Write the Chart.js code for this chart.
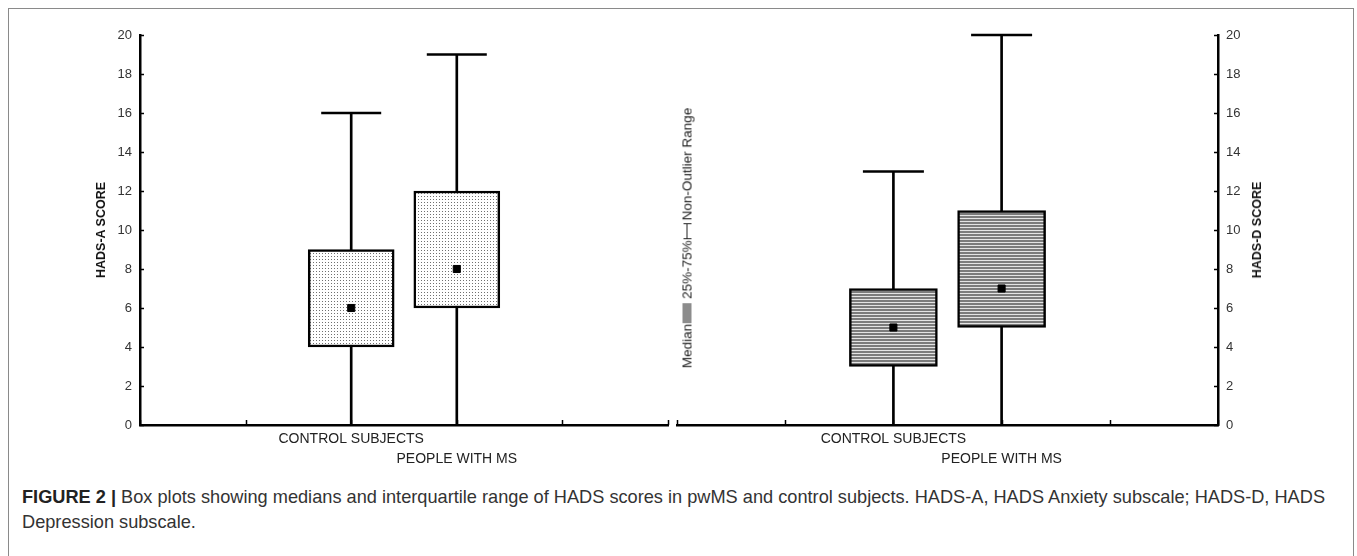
<!DOCTYPE html>
<html><head><meta charset="utf-8">
<script src="https://cdn.jsdelivr.net/npm/chart.js@4.4.1/dist/chart.umd.min.js"></script>
<style>
html,body{margin:0;padding:0;background:#fff;width:1357px;height:556px;overflow:hidden;font-family:"Liberation Sans",Arial,sans-serif;}
#frame{position:absolute;left:8px;top:8px;width:1346px;height:620px;border:1px solid #8a8a8a;box-sizing:border-box;}
.panel{position:absolute;top:0;height:470px;}
#leftWrap{left:0;width:672px;}
#rightWrap{left:672px;width:685px;}
.ytitle{position:absolute;font-weight:bold;font-size:12.5px;color:#111;white-space:nowrap;transform:translate(-50%,-50%) rotate(-90deg);}
#legend{position:absolute;left:687px;top:238px;transform:translate(-50%,-50%) rotate(-90deg);white-space:nowrap;font-size:13.5px;color:#222;display:flex;align-items:center;}
#legend .gbox{display:inline-block;width:20px;height:9px;background:#8c8c8c;margin:0 4px 0 1px;}
#legend .wh{display:inline-block;position:relative;width:14px;height:8px;margin:0 3px 0 1px;border-left:1px solid #222;border-right:1px solid #222;}
#legend .wh:after{content:"";position:absolute;left:0;right:0;top:3.5px;height:1px;background:#222;}
#caption{position:absolute;left:22px;top:485px;width:1330px;font-size:18.2px;line-height:25px;color:#333;white-space:nowrap;}
#caption b{color:#222;}
</style>
</head><body>
<div id="frame"></div>
<div class="panel" id="leftWrap"><canvas id="leftChart" width="672" height="470"></canvas></div>
<div class="panel" id="rightWrap"><canvas id="rightChart" width="685" height="470"></canvas></div>
<div class="ytitle" style="left:101px;top:230px;">HADS-A SCORE</div>
<div class="ytitle" style="left:1257px;top:230px;">HADS-D SCORE</div>
<div id="legend"><span>Median</span><span class="gbox"></span><span>25%-75%</span><span class="wh"></span><span>Non-Outlier Range</span></div>
<div id="caption"><b>FIGURE 2 |</b> Box plots showing medians and interquartile range of HADS scores in pwMS and control subjects. HADS-A, HADS Anxiety subscale; HADS-D, HADS<br>Depression subscale.</div>
<script>
const categories = ['CONTROL SUBJECTS', 'PEOPLE WITH MS'];
const scoreTicks = [0, 2, 4, 6, 8, 10, 12, 14, 16, 18, 20];

const anxietyMin = [0, 0];
const anxietyQ1 = [4, 6];
const anxietyMedian = [6, 8];
const anxietyQ3 = [9, 12];
const anxietyMax = [16, 19];

const depressionMin = [0, 0];
const depressionQ1 = [3, 5];
const depressionMedian = [5, 7];
const depressionQ3 = [7, 11];
const depressionMax = [13, 20];

// six slots per panel: edge, tick, box, box, tick, edge
const slotLabels = ['', '', categories[0], categories[1], '', ''];
const pad = a => [null, null, a[0], a[1], null, null];
const padRange = (lo, hi) => [null, null, [lo[0], hi[0]], [lo[1], hi[1]], null, null];

function dotPattern() {
  const c = document.createElement('canvas'); c.width = 3; c.height = 3;
  const g = c.getContext('2d');
  g.fillStyle = '#ffffff'; g.fillRect(0, 0, 3, 3);
  g.fillStyle = '#707070'; g.fillRect(1, 1, 1, 1);
  return g.createPattern(c, 'repeat');
}
function stripePattern() {
  const c = document.createElement('canvas'); c.width = 4; c.height = 3;
  const g = c.getContext('2d');
  g.fillStyle = '#7c7c7c'; g.fillRect(0, 0, 4, 2);
  g.fillStyle = '#e4e4e4'; g.fillRect(0, 2, 4, 1);
  return g.createPattern(c, 'repeat');
}

const innerTicks = {
  id: 'innerTicks',
  afterDatasetsDraw(chart) {
    const {ctx, chartArea, scales: {x, y}} = chart;
    ctx.save();
    ctx.strokeStyle = '#000'; ctx.lineWidth = 1.5;
    const left = y.position === 'left';
    const ax = left ? chartArea.left : chartArea.right;
    const dir = left ? 1 : -1;
    scoreTicks.forEach(v => {
      const py = Math.round(y.getPixelForValue(v)) + 0.5;
      ctx.beginPath(); ctx.moveTo(ax, py); ctx.lineTo(ax + dir * 4, py); ctx.stroke();
    });
    for (let i = 0; i < slotLabels.length; i++) {
      const px = Math.round(x.getPixelForValue(i)) + 0.5;
      ctx.beginPath(); ctx.moveTo(px, chartArea.bottom); ctx.lineTo(px, chartArea.bottom - 5); ctx.stroke();
    }
    ctx.restore();
  }
};

function makeChart(id, side, mins, q1s, meds, q3s, maxs, fill, boxWidth, capRadius) {
  const font = {family: '"Liberation Sans", Arial, sans-serif'};
  return new Chart(document.getElementById(id), {
    type: 'bar',
    data: {
      labels: slotLabels,
      datasets: [
        {type: 'bar', data: padRange(mins, maxs), backgroundColor: '#000', borderWidth: 0,
         barThickness: 2, grouped: false, order: 4},
        {type: 'bar', data: padRange(q1s, q3s), backgroundColor: fill, borderColor: '#000', borderWidth: 2.5,
         borderSkipped: false, barThickness: boxWidth, grouped: false, order: 3},
        {type: 'line', data: pad(maxs), showLine: false, pointStyle: 'line', pointRadius: capRadius,
         pointBorderWidth: 2.5, pointBorderColor: '#000', order: 2, clip: false},
        {type: 'line', data: pad(meds), showLine: false, pointStyle: 'rect', pointRadius: 5,
         pointBackgroundColor: '#000', pointBorderColor: '#000', pointBorderWidth: 1, order: 1}
      ]
    },
    options: {
      responsive: false, animation: false, events: [],
      layout: {autoPadding: false,
               padding: side === 'left' ? {top: 35, right: 4, left: 0, bottom: 0} : {top: 35, right: 0, left: 5, bottom: 0}},
      plugins: {legend: {display: false}, tooltip: {enabled: false}},
      scales: {
        x: {
          type: 'category', offset: false,
          grid: {display: false, drawTicks: false},
          border: {display: true, color: '#000', width: 2.5},
          ticks: {autoSkip: false, maxRotation: 0, minRotation: 0, padding: 4, color: '#222',
                  font: Object.assign({size: 14, lineHeight: 1.45}, font),
                  callback: (v, i) => i === 2 ? [categories[0], ''] : (i === 3 ? ['', categories[1]] : '')},
          afterFit: s => { s.height = 45; }
        },
        y: {
          position: side, min: 0, max: 20,
          afterBuildTicks: s => { s.ticks = scoreTicks.map(v => ({value: v})); },
          grid: {display: false, drawTicks: false},
          border: {display: true, color: '#000', width: 2.5},
          ticks: {padding: 8, color: '#333', font: Object.assign({size: 13}, font)},
          afterFit: s => { s.width = side === 'left' ? 140 : 139; }
        }
      }
    },
    plugins: [innerTicks]
  });
}

makeChart('leftChart', 'left', anxietyMin, anxietyQ1, anxietyMedian, anxietyQ3, anxietyMax, dotPattern(), 86, 30);
makeChart('rightChart', 'right', depressionMin, depressionQ1, depressionMedian, depressionQ3, depressionMax, stripePattern(), 88, 30.5);
</script>
</body></html>
